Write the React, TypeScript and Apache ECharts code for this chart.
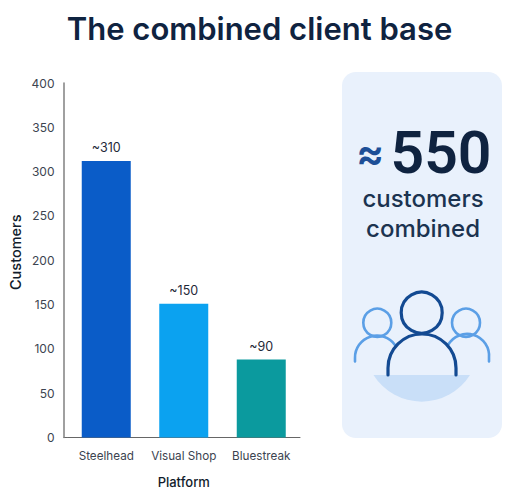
import React, { useEffect, useRef } from "react";
import * as echarts from "echarts";

const titleText = "The combined client base";
const categories = ["Steelhead", "Visual Shop", "Bluestreak"];
const customers = [312, 151, 88];
const barLabels = ["~310", "~150", "~90"];
const barColors = ["#0a5cc8", "#0ba2f0", "#0b9a9e"];
const yTicks = { min: 0, max: 400, interval: 50 };
const FONT = "Inter, 'Noto Sans', sans-serif";

const leftBody = "M355 361.5 V358 A22 22 0 0 1 395 345";
const rightBody = "M489 361.5 V358 A22 22 0 0 0 448 345";
const midBody = "M388 375 V368 A34 34 0 0 1 456 368 V375";
const bowl = "M373.5 375 H470 A57 57 0 0 1 373.5 375 Z";
echarts.graphic.registerShape("leftBody", echarts.graphic.extendPath(leftBody, {}));
echarts.graphic.registerShape("rightBody", echarts.graphic.extendPath(rightBody, {}));
echarts.graphic.registerShape("midBody", echarts.graphic.extendPath(midBody, {}));
echarts.graphic.registerShape("bowl", echarts.graphic.extendPath(bowl, {}));

const LIGHT = { stroke: "#5b9fe6", lineWidth: 2.6, fill: "none", lineCap: "round" };
const DARK = { stroke: "#134a92", lineWidth: 3.2, fill: "none", lineCap: "round" };

export default function App() {
  const ref = useRef<HTMLDivElement>(null);
  useEffect(() => {
    document.body.style.margin = "0";
    document.body.style.background = "#ffffff";
    const chart = echarts.init(ref.current!, undefined, { renderer: "svg" });
    chart.setOption({
      animation: false,
      backgroundColor: "#ffffff",
      textStyle: { fontFamily: FONT },
      title: {
        text: titleText,
        left: "center",
        top: 8,
        textStyle: { fontFamily: FONT, fontSize: 31, fontWeight: 600, color: "#0f2340" },
      },
      grid: { left: 67.5, right: 219, top: 83, bottom: 64.5 },
      xAxis: {
        type: "category",
        data: categories,
        name: "Platform",
        nameLocation: "middle",
        nameGap: 38,
        nameTextStyle: { fontFamily: FONT, fontSize: 13, fontWeight: 500, color: "#111c2c" },
        axisLine: { show: true, lineStyle: { color: "#666666", width: 1 } },
        axisTick: { show: false },
        axisLabel: { fontFamily: FONT, fontSize: 11.7, color: "#3c4450", margin: 12, interval: 0 },
      },
      yAxis: {
        type: "value",
        min: yTicks.min,
        max: yTicks.max,
        interval: yTicks.interval,
        offset: 4,
        name: "Customers",
        nameLocation: "middle",
        nameGap: 41,
        nameTextStyle: { fontFamily: FONT, fontSize: 14.5, fontWeight: 500, color: "#111c2c", padding: [0, 0, 0, 16] },
        axisLine: { show: true, lineStyle: { color: "#808080", width: 1.5 } },
        axisTick: { show: false },
        splitLine: { show: false },
        axisLabel: { fontFamily: FONT, fontSize: 12, color: "#3c4450", margin: 9 },
      },
      series: [
        {
          type: "bar",
          barWidth: 49,
          data: customers.map((v, i) => ({
            value: v,
            itemStyle: { color: barColors[i] },
            label: { formatter: barLabels[i] },
          })),
          label: { show: true, position: "top", distance: 6.5, fontFamily: FONT, fontSize: 12.5, color: "#1f2937" },
        },
      ],
      graphic: [
        { type: "line", silent: true, shape: { x1: 63.5, y1: 437.5, x2: 67.5, y2: 437.5 }, style: { stroke: "#666666", lineWidth: 1 } },
        { type: "rect", shape: { x: 342, y: 72, width: 160, height: 366, r: 14 }, style: { fill: "#e9f1fc" } },
        { type: "text", x: 370, y: 152, style: { text: "≈", font: `600 42px ${FONT}`, fill: "#1d4f97", align: "center", verticalAlign: "middle", lineHeight: 40 } },
        { type: "text", x: 441, y: 152, style: { text: "550", font: `600 59px Roboto, ${FONT}`, fill: "#0f2340", align: "center", verticalAlign: "middle", lineHeight: 50 } },
        { type: "text", x: 423, y: 198, style: { text: "customers", font: `500 24px ${FONT}`, fill: "#1b3350", align: "center", verticalAlign: "middle", lineHeight: 26 } },
        { type: "text", x: 423, y: 228, style: { text: "combined", font: `500 24px ${FONT}`, fill: "#1b3350", align: "center", verticalAlign: "middle", lineHeight: 26 } },
        { type: "bowl", style: { fill: "#c9dff8" } },
        { type: "circle", shape: { cx: 377.3, cy: 322.7, r: 14 }, style: LIGHT },
        { type: "circle", shape: { cx: 466, cy: 322.7, r: 14 }, style: LIGHT },
        { type: "leftBody", style: LIGHT },
        { type: "rightBody", style: LIGHT },
        { type: "circle", shape: { cx: 421.7, cy: 312.7, r: 20.5 }, style: DARK },
        { type: "midBody", style: DARK },
      ],
    });
    return () => chart.dispose();
  }, []);
  return <div ref={ref} style={{ width: 519, height: 502 }} />;
}
